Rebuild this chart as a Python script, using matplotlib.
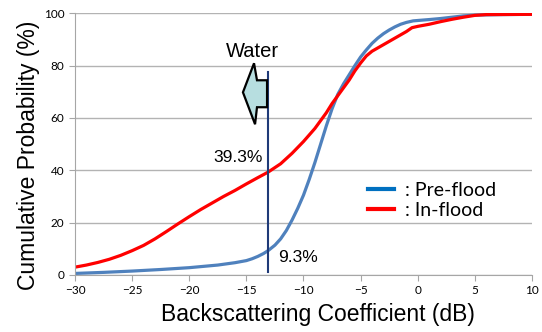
import numpy as np
import matplotlib
matplotlib.use("Agg")
import matplotlib.pyplot as plt
from matplotlib.patches import Polygon

# Pre-flood CDF (blue)
pre_x = [-30, -27.5, -25, -22.5, -20, -17.5, -16, -15, -14.5, -14, -13.5, -13.1, -12.5, -12,
         -11.5, -11, -10.5, -10, -9.5, -9, -8.5, -8, -7.5, -7, -6.5, -6, -5.5, -5, -4.5, -4,
         -3.5, -3, -2.5, -2, -1.5, -1, -0.4, 1, 2, 3, 4, 5, 7.5, 10]
pre_y = [0.6, 1.0, 1.5, 2.1, 2.8, 3.8, 4.7, 5.5, 6.2, 7.1, 8.2, 9.3, 11.4, 13.8,
         17, 21, 25.5, 30.5, 36.5, 43, 50, 57, 63.5, 69, 73, 76.5, 80, 83.3, 86, 88.5,
         90.5, 92.2, 93.6, 94.8, 95.8, 96.5, 97.1, 97.6, 98, 98.5, 99, 99.3, 99.5, 99.6]

# In-flood CDF (red)
in_x = [-30, -29, -28, -27, -26, -25, -24, -23, -22, -21, -20, -19, -18, -17, -16, -15, -14,
        -13.1, -12, -11, -10, -9, -8, -7.5, -7, -6.5, -6, -5.5, -5, -4.5, -4, -3, -2, -1,
        -0.5, 0, 1, 2, 3, 4, 5, 6, 10]
in_y = [3.0, 3.8, 4.8, 6.0, 7.5, 9.3, 11.3, 13.8, 16.6, 19.5, 22.3, 25, 27.5, 30, 32.3, 34.8, 37.2,
        39.3, 42.5, 46.5, 51, 56, 62, 65.5, 68.5, 71.5, 74.5, 78, 81, 83.7, 85.5, 88, 90.5, 93,
        94.5, 95, 95.8, 96.8, 97.7, 98.5, 99.2, 99.5, 99.6]

water_x = -13.1
label_pre = "9.3%"
label_in = "39.3%"

plt.rcParams['font.family'] = ['Liberation Sans', 'DejaVu Sans']

fig = plt.figure(figsize=(5.42, 3.32), dpi=100)
ax = fig.add_axes([0.1384, 0.1717, 0.8431, 0.7883])

ax.plot(pre_x, pre_y, color='#4F81BD', lw=2.3, solid_joinstyle='round')
ax.plot(in_x, in_y, color='#FF0000', lw=2.3, solid_joinstyle='round')

# legend handles (colours differ slightly from the curves in the original)
h1, = ax.plot([], [], color='#0070C0', lw=3)
h2, = ax.plot([], [], color='#FF0000', lw=3)
leg = ax.legend([h1, h2], [': Pre-flood', ': In-flood'], loc='center left',
                bbox_to_anchor=(0.641, 0.285), frameon=False, borderpad=0,
                borderaxespad=0, handlelength=1.35, handletextpad=0.55,
                labelspacing=0.15, prop={'family': 'Lato', 'size': 14})

# water threshold line
ax.plot([water_x, water_x], [1.3, 77.4], color='#1F3A78', lw=1.5)
ax.text(water_x - 0.45, 45, label_in, ha='right', va='center', fontsize=12.5)
ax.text(water_x + 0.85, 6.5, label_pre, ha='left', va='center', fontsize=12.5)

# arrow pointing towards water (low backscatter)
arrow = [(-15.3, 69.8), (-14.33, 80.9), (-14.07, 74.4), (-13.19, 74.4),
         (-13.19, 64.1), (-14.07, 64.1), (-14.24, 57.6)]
ax.add_patch(Polygon(arrow, closed=True, facecolor='#B7DEE0', edgecolor='black', lw=1.6, zorder=4))
ax.text(-14.5, 85.5, 'Water', ha='center', va='center', fontsize=14.5)

ax.set_xlim(-30, 10)
ax.set_ylim(0, 100)
ax.set_xticks(np.arange(-30, 11, 5))
ax.set_yticks(np.arange(0, 101, 20))
ax.grid(axis='y', color='#B3B3B3', lw=1)
ax.set_axisbelow(True)
for s in ['top', 'right']:
    ax.spines[s].set_visible(False)
for s in ['left', 'bottom']:
    ax.spines[s].set_color('#A6A6A6')
ax.tick_params(colors='#A6A6A6', length=4, labelcolor='black', labelsize=8.5)
for lab in ax.get_xticklabels() + ax.get_yticklabels():
    lab.set_fontfamily('Lato')

ax.set_xlabel('Backscattering Coefficient (dB)', fontsize=16.5, labelpad=5, x=0.532)
ax.set_ylabel('Cumulative Probability (%)', fontsize=16.5, labelpad=3, y=0.459)

fig.savefig('out.png', dpi=100)
